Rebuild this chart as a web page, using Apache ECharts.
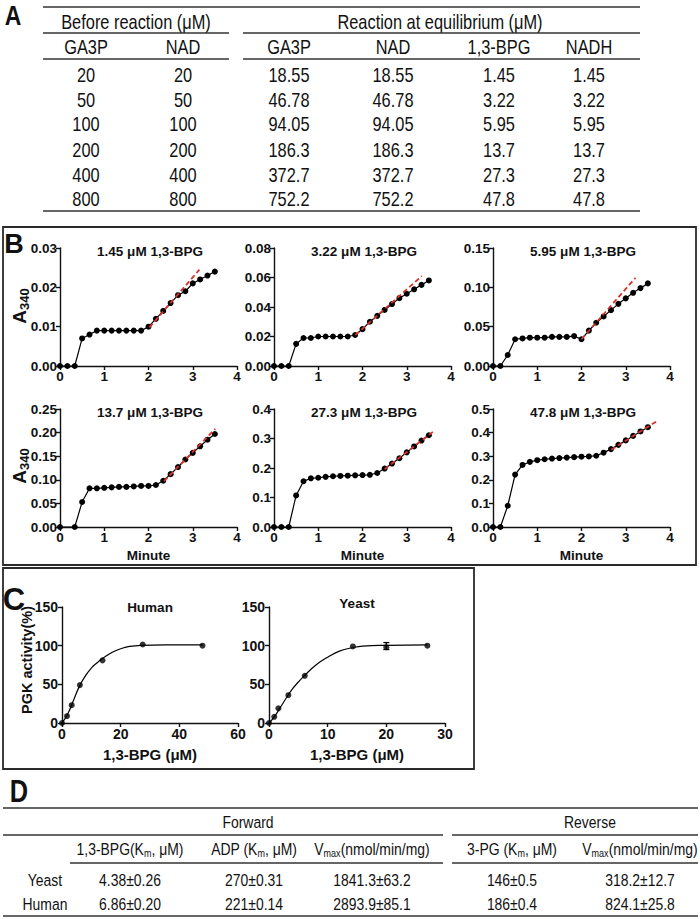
<!DOCTYPE html>
<html><head><meta charset="utf-8">
<script src="https://cdn.jsdelivr.net/npm/echarts/dist/echarts.min.js"></script>
<style>html,body{margin:0;padding:0;background:#fff}#c{width:700px;height:919px}</style>
</head><body><div id="c"></div>
<script>
// ---------- DATA ----------
// Panel A table
const headA1 = ['Before reaction (μM)', 'Reaction at equilibrium (μM)'];
const headA2 = ['GA3P', 'NAD', 'GA3P', 'NAD', '1,3-BPG', 'NADH'];
const preGA3P = ['20', '50', '100', '200', '400', '800'];
const preNAD = ['20', '50', '100', '200', '400', '800'];
const eqGA3P = ['18.55', '46.78', '94.05', '186.3', '372.7', '752.2'];
const eqNAD = ['18.55', '46.78', '94.05', '186.3', '372.7', '752.2'];
const eqBPG = ['1.45', '3.22', '5.95', '13.7', '27.3', '47.8'];
const eqNADH = ['1.45', '3.22', '5.95', '13.7', '27.3', '47.8'];

// Panel B time courses (A340 vs minute)
const minutes = [0, 0.167, 0.333, 0.5, 0.667, 0.833, 1, 1.167, 1.333, 1.5, 1.667, 1.833, 2, 2.167, 2.333, 2.5, 2.667, 2.833, 3, 3.167, 3.333, 3.5];
const a340_145 = [0, 0, 0, 0.007, 0.008, 0.009, 0.009, 0.009, 0.009, 0.009, 0.009, 0.009, 0.010, 0.012, 0.014, 0.016, 0.018, 0.019, 0.021, 0.022, 0.023, 0.024];
const a340_322 = [0, 0, 0, 0.015, 0.019, 0.019, 0.020, 0.020, 0.020, 0.020, 0.020, 0.021, 0.025, 0.030, 0.034, 0.038, 0.042, 0.046, 0.049, 0.052, 0.055, 0.058];
const a340_595 = [0, 0, 0.014, 0.034, 0.035, 0.036, 0.036, 0.036, 0.037, 0.037, 0.037, 0.038, 0.034, 0.045, 0.055, 0.063, 0.071, 0.079, 0.086, 0.093, 0.099, 0.105];
const a340_137 = [0, null, 0, 0.053, 0.082, 0.082, 0.083, 0.084, 0.085, 0.085, 0.086, 0.087, 0.087, 0.089, 0.098, 0.112, 0.127, 0.143, 0.157, 0.171, 0.185, 0.197];
const a340_273 = [0, 0, 0, 0.107, 0.155, 0.165, 0.167, 0.170, 0.172, 0.173, 0.174, 0.175, 0.176, 0.177, 0.183, 0.198, 0.215, 0.233, 0.253, 0.273, 0.293, 0.311];
const a340_478 = [0, 0, 0.09, 0.222, 0.263, 0.276, 0.283, 0.287, 0.290, 0.292, 0.294, 0.296, 0.298, 0.299, 0.302, 0.315, 0.330, 0.348, 0.367, 0.386, 0.405, 0.423];
const bSeries = [a340_145, a340_322, a340_595, a340_137, a340_273, a340_478];
const bTitles = ['1.45 μM 1,3-BPG', '3.22 μM 1,3-BPG', '5.95 μM 1,3-BPG', '13.7 μM 1,3-BPG', '27.3 μM 1,3-BPG', '47.8 μM 1,3-BPG'];
const bYMax = [0.03, 0.08, 0.15, 0.25, 0.4, 0.5];
const bYStep = [0.01, 0.02, 0.05, 0.05, 0.1, 0.1];
const bYDecimals = [2, 2, 2, 2, 1, 1];
const bXTicks = [0, 4, 1];
// linear-fit (red dashed) endpoints
const fit145 = [[2.02, 0.0098], [3.15, 0.0245]];
const fit322 = [[1.84, 0.021], [3.34, 0.061]];
const fit595 = [[2.0, 0.034], [3.22, 0.112]];
const fit137 = [[2.35, 0.097], [3.51, 0.208]];
const fit273 = [[2.5, 0.196], [3.62, 0.326]];
const fit478 = [[2.67, 0.327], [3.7, 0.448]];
const bFits = [fit145, fit322, fit595, fit137, fit273, fit478];

// Panel C
const humanX = [0, 1.7, 3.3, 6.1, 13.8, 27.5, 47.9];
const humanY = [0, 9, 23, 49, 81, 101.5, 100];
const humanCurveX = [0, 2, 4, 6, 8, 10, 12, 14, 16, 18, 20, 23, 27, 35, 48];
const humanCurveY = [0, 12, 30, 48, 61, 71, 78, 84, 89, 93, 96, 99, 100.5, 101, 101];
const yeastX = [0, 0.9, 1.6, 3.3, 6.1, 14.3, 20, 27];
const yeastY = [0, 8, 19, 36, 61, 99, 98, 100];
const yeastErrX = [20];
const yeastErrLow = [95];
const yeastErrHigh = [104];
const yeastCurveX = [0, 1, 2, 3, 4, 5, 6, 8, 10, 12, 14, 16, 20, 27];
const yeastCurveY = [0, 9, 21, 33, 44, 53, 61, 75, 85, 93, 97, 99.5, 100.5, 101];

// Panel D table
const headD1 = ['Forward', 'Reverse'];
const headD2 = ['{n|1,3-BPG(K}{s|m}{n|, μM)}', '{n|ADP (K}{s|m}{n|, μM)}', '{n|V}{s|max}{n|(nmol/min/mg)}', '{n|3-PG (K}{s|m}{n|, μM)}', '{n|V}{s|max}{n|(nmol/min/mg)}'];
const rowNamesD = ['Yeast', 'Human'];
const yeastKin = ['4.38±0.26', '270±0.31', '1841.3±63.2', '146±0.5', '318.2±12.7'];
const humanKin = ['6.86±0.20', '221±0.14', '2893.9±85.1', '186±0.4', '824.1±25.8'];

// ---------- LAYOUT / STYLE ----------
const FONT = '"Liberation Sans", Arial, Helvetica, sans-serif';
const INK = '#111';
const RULE = '#333';
const NARROW_SCALE = 0.82;

const G = [];
function txt(x, y, text, o) {
  o = o || {};
  G.push({
    type: 'text', x: x, y: y, rotation: o.rot || 0, scaleX: o.narrow ? NARROW_SCALE : 1,
    silent: true, z: 10,
    style: {
      text: text, fill: o.color || INK, fontFamily: FONT,
      fontSize: o.size || 13, fontWeight: o.weight || 'normal',
      align: o.align || 'center', verticalAlign: o.va || 'middle', rich: o.rich
    }
  });
}
function rule(x1, y, x2, w) {
  G.push({ type: 'line', silent: true, z: 10, shape: { x1: x1, y1: y, x2: x2, y2: y }, style: { stroke: RULE, lineWidth: w || 1.5 } });
}
function box(x, y, w, h) {
  G.push({ type: 'rect', silent: true, z: 10, shape: { x: x, y: y, width: w, height: h }, style: { fill: 'none', stroke: '#2a2a2a', lineWidth: 1.8 } });
}

// Panel A
txt(13, 15, 'A', { size: 28, weight: 'bold', narrow: true });
rule(43, 7, 640);
txt(136, 22, headA1[0], { size: 20, narrow: true });
txt(440, 22, headA1[1], { size: 20, narrow: true });
rule(43, 33, 229); rule(243, 33, 640);
const colA = [86, 183, 289, 393, 499, 589];
headA2.forEach((h, i) => txt(colA[i], 47, h, { size: 20, narrow: true }));
rule(43, 59, 229); rule(243, 59, 640);
const colsA = [preGA3P, preNAD, eqGA3P, eqNAD, eqBPG, eqNADH];
const rowYA = [75, 99.5, 124, 149.5, 174.5, 199];
colsA.forEach((col, i) => col.forEach((v, r) => txt(colA[i], rowYA[r], v, { size: 20, narrow: true })));
rule(43, 211, 640);

// Panel B
box(3, 227, 693, 338);
txt(14, 244, 'B', { size: 27, weight: 'bold' });
const a340Rich = { a: { fontSize: 19, fontWeight: 'bold', fontFamily: FONT, fill: INK, verticalAlign: 'middle', lineHeight: 24 }, s: { fontSize: 13, fontWeight: 'bold', fontFamily: FONT, fill: INK, verticalAlign: 'bottom', lineHeight: 24 } };
txt(19, 306, '{a|A}{s|340}', { rot: Math.PI / 2, rich: a340Rich });
txt(19, 466, '{a|A}{s|340}', { rot: Math.PI / 2, rich: a340Rich });

// Panel C
box(3, 568, 471, 201);
txt(14, 599, 'C', { size: 31, weight: 'bold' });
txt(27, 660, 'PGK activity(%)', { rot: Math.PI / 2, size: 14.5, weight: 'bold' });

// Panel D
txt(19, 791, 'D', { size: 31, weight: 'bold', narrow: true });
rule(3, 808, 698);
txt(248, 822, headD1[0], { size: 17, narrow: true });
txt(590, 822, headD1[1], { size: 17, narrow: true });
rule(3, 835, 443); rule(452, 835, 698);
const colD = [130, 254, 372, 512, 640];
const dRich = { n: { fontFamily: FONT, fontSize: 17, fill: INK, verticalAlign: 'middle', lineHeight: 20 }, s: { fontFamily: FONT, fontSize: 11, fill: INK, verticalAlign: 'bottom', lineHeight: 20 } };
headD2.forEach((h, i) => txt(colD[i], 849, h, { rich: dRich, narrow: true }));
rule(70, 863, 443); rule(452, 863, 698);
txt(45, 880, rowNamesD[0], { size: 17, narrow: true });
txt(45, 904, rowNamesD[1], { size: 17, narrow: true });
yeastKin.forEach((v, i) => txt(colD[i], 880, v, { size: 17, narrow: true }));
humanKin.forEach((v, i) => txt(colD[i], 904, v, { size: 17, narrow: true }));
rule(3, 916, 698);

// ---------- CHART OPTION ----------
const grids = [], xAxes = [], yAxes = [], series = [];
const axLine = { show: true, onZero: false, lineStyle: { color: INK, width: 1.4 } };
const axTick = { show: true, length: 4, lineStyle: { color: INK, width: 1.4 } };
const lab = (extra) => Object.assign({ color: INK, fontFamily: FONT, fontWeight: 'bold', fontSize: 13.5 }, extra);

const bLeft = [60, 274, 493, 60, 274, 493];
const bTop = [248, 248, 248, 409, 409, 409];
for (let i = 0; i < 6; i++) {
  grids.push({ left: bLeft[i], top: bTop[i], width: 177, height: 118 });
  xAxes.push({ type: 'value', gridIndex: i, min: bXTicks[0], max: bXTicks[1], interval: bXTicks[2],
    axisLine: axLine, axisTick: axTick, splitLine: { show: false }, axisLabel: lab({ margin: 3 }),
    name: i >= 3 ? 'Minute' : '', nameLocation: 'middle', nameGap: 21,
    nameTextStyle: { color: INK, fontFamily: FONT, fontWeight: 'bold', fontSize: 13.5 } });
  const dec = bYDecimals[i];
  yAxes.push({ type: 'value', gridIndex: i, min: 0, max: bYMax[i], interval: bYStep[i],
    axisLine: axLine, axisTick: axTick, splitLine: { show: false },
    axisLabel: lab({ margin: 3, formatter: v => v.toFixed(dec) }) });
  series.push({ type: 'line', xAxisIndex: i, yAxisIndex: i, data: minutes.map((t, k) => [t, bSeries[i][k]]),
    connectNulls: true, symbol: 'circle', symbolSize: 6, itemStyle: { color: '#000' },
    lineStyle: { color: '#000', width: 1.2 }, z: 2, animation: false });
  series.push({ type: 'line', xAxisIndex: i, yAxisIndex: i, data: bFits[i], showSymbol: false,
    lineStyle: { color: '#d8322a', width: 1.8, type: [5, 3] }, z: 4, animation: false });
  txt(bLeft[i] + 90, bTop[i] + 3, bTitles[i], { size: 13.5, weight: 'bold' });
}

// Panel C grids
const cLeft = [62, 269];
const cMax = [60, 30];
const cStep = [20, 10];
const cTitle = ['Human', 'Yeast'];
const cTitleY = [607, 603];
for (let j = 0; j < 2; j++) {
  const gi = 6 + j;
  grids.push({ left: cLeft[j], top: 607, width: 176, height: 116 });
  xAxes.push({ type: 'value', gridIndex: gi, min: 0, max: cMax[j], interval: cStep[j],
    axisLine: axLine, axisTick: axTick, splitLine: { show: false }, axisLabel: lab({ margin: 4, fontSize: 14 }),
    name: '1,3-BPG (μM)', nameLocation: 'middle', nameGap: 24,
    nameTextStyle: { color: INK, fontFamily: FONT, fontWeight: 'bold', fontSize: 15 } });
  yAxes.push({ type: 'value', gridIndex: gi, min: 0, max: 150, interval: 50,
    axisLine: axLine, axisTick: axTick, splitLine: { show: false }, axisLabel: lab({ margin: 4, fontSize: 14 }) });
  txt(cLeft[j] + 88, cTitleY[j], cTitle[j], { size: 13.5, weight: 'bold' });
}
series.push({ type: 'line', xAxisIndex: 6, yAxisIndex: 6, data: humanCurveX.map((x, k) => [x, humanCurveY[k]]),
  smooth: true, showSymbol: false, lineStyle: { color: '#000', width: 1.2 }, animation: false });
series.push({ type: 'scatter', xAxisIndex: 6, yAxisIndex: 6, data: humanX.map((x, k) => [x, humanY[k]]),
  symbolSize: 6, itemStyle: { color: '#000' }, animation: false });
series.push({ type: 'line', xAxisIndex: 7, yAxisIndex: 7, data: yeastCurveX.map((x, k) => [x, yeastCurveY[k]]),
  smooth: true, showSymbol: false, lineStyle: { color: '#000', width: 1.2 }, animation: false });
series.push({ type: 'scatter', xAxisIndex: 7, yAxisIndex: 7, data: yeastX.map((x, k) => [x, yeastY[k]]),
  symbolSize: 6, itemStyle: { color: '#000' }, animation: false });
series.push({ type: 'custom', xAxisIndex: 7, yAxisIndex: 7, animation: false,
  data: yeastErrX.map((x, k) => [x, yeastErrLow[k], yeastErrHigh[k]]),
  encode: { x: 0, y: [1, 2] },
  renderItem: (params, api) => {
    const x = api.value(0);
    const p1 = api.coord([x, api.value(1)]);
    const p2 = api.coord([x, api.value(2)]);
    const st = { stroke: '#000', lineWidth: 1.3 };
    return { type: 'group', children: [
      { type: 'line', shape: { x1: p1[0], y1: p1[1], x2: p2[0], y2: p2[1] }, style: st },
      { type: 'line', shape: { x1: p1[0] - 3, y1: p1[1], x2: p1[0] + 3, y2: p1[1] }, style: st },
      { type: 'line', shape: { x1: p2[0] - 3, y1: p2[1], x2: p2[0] + 3, y2: p2[1] }, style: st }
    ] };
  } });

const chart = echarts.init(document.getElementById('c'), null, { renderer: 'svg', width: 700, height: 919 });
chart.setOption({
  backgroundColor: '#fff',
  animation: false,
  grid: grids, xAxis: xAxes, yAxis: yAxes, series: series,
  graphic: { elements: G }
});
</script>
</body></html>
